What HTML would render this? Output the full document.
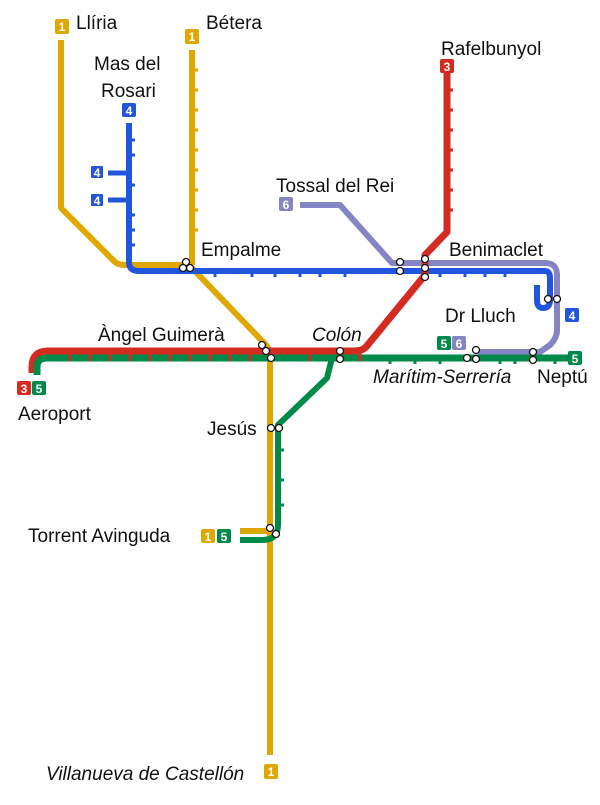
<!DOCTYPE html>
<html><head><meta charset="utf-8"><style>
body{margin:0;background:#fff}
svg text{font-family:"Liberation Sans",sans-serif;font-size:19px;fill:#111}
.b{font-size:12px;font-weight:bold;fill:#fff;text-anchor:middle}
</style></head><body>
<svg width="600" height="800" viewBox="0 0 600 800" xmlns="http://www.w3.org/2000/svg">
<g fill="none" stroke-linejoin="round" stroke-linecap="butt">
<path d="M61,40 V208 L113,260 Q117,265 125,265 H190" stroke="#dfa800" stroke-width="6"/>
<path d="M192,50 V265" stroke="#dfa800" stroke-width="6"/>
<path d="M192,268 L266,345 Q270,350 270,360 V755" stroke="#dfa800" stroke-width="6"/>
<path d="M240,531 H270" stroke="#dfa800" stroke-width="6"/>
<path d="M300,205 H340 L392,263 H545 Q557,263 557,275 V330 Q557,338 550,345 L540,352 H478" stroke="#8585c5" stroke-width="6"/>
<path d="M129,123 V262 Q129,271 139,271 H545 Q550,271 550,278 V300 Q550,308 543,308 Q537,308 537,300 V285" stroke="#2255dd" stroke-width="6"/>
<path d="M108,173 H129 M108,200 H129" stroke="#2255dd" stroke-width="5"/>
<path d="M447,72 V232 L425,255 V275 L366,347 Q362,351 355,351 H48 Q32,351 32,367 V373" stroke="#d42a20" stroke-width="7"/>
<path d="M37,375 V367 Q37,358 47,358 H572" stroke="#008a4a" stroke-width="7"/>
<path d="M332,358 L327,378 L278,425 V525 Q278,540 262,540 H240" stroke="#008a4a" stroke-width="6"/>
</g>
<g stroke="#dfa800" stroke-width="3">
<path d="M58,60h3 M58,80h3 M58,100h3 M58,120h3 M58,140h3 M58,160h3 M58,180h3 M58,200h3 M195,70h3 M195,90h3 M195,110h3 M195,130h3 M195,150h3 M195,170h3 M195,190h3 M195,210h3 M195,230h3 M267,380h3 M267,400h3 M267,450h3 M267,470h3 M267,490h3 M267,510h3 M267,560h3 M267,590h3 M267,620h3 M267,650h3 M267,680h3 M267,710h3 M267,740h3"/>
</g>
<g stroke="#2255dd" stroke-width="3">
<path d="M132,140h3 M132,155h3 M132,185h3 M132,215h3 M132,230h3 M132,245h3 M215,274v3 M252,274v3 M275,274v3 M300,274v3 M320,274v3 M345,274v3 M440,274v3 M465,274v3 M485,274v3 M505,274v3"/>
</g>
<g stroke="#d42a20" stroke-width="3">
<path d="M70,351v10 M90,351v10 M110,351v10 M130,351v10 M150,351v10 M170,351v10 M190,351v10 M210,351v10 M230,351v10 M250,351v10 M310,351v10 M360,351v10 M450,90h3 M450,110h3 M450,130h3 M450,150h3 M450,170h3 M450,190h3 M450,210h3"/>
</g>
<g stroke="#008a4a" stroke-width="3">
<path d="M390,361v3 M415,361v3 M440,361v3 M500,361v3 M515,361v3 M555,361v3 M281,450h3 M281,480h3 M281,505h3"/>
</g>
<g fill="#fff" stroke="#111" stroke-width="1.3">
<circle cx="186" cy="262" r="3.5"/><circle cx="190" cy="268" r="3.5"/><circle cx="183" cy="268" r="3.5"/>
<circle cx="400" cy="262" r="3.5"/><circle cx="400" cy="271" r="3.5"/>
<circle cx="425" cy="259" r="3.5"/><circle cx="425" cy="268" r="3.5"/><circle cx="425" cy="277" r="3.5"/>
<circle cx="548" cy="299" r="3.5"/><circle cx="557" cy="299" r="3.5"/>
<circle cx="262" cy="345" r="3.5"/><circle cx="266" cy="351" r="3.5"/><circle cx="271" cy="358" r="3.5"/>
<circle cx="340" cy="351" r="3.5"/><circle cx="340" cy="359" r="3.5"/>
<circle cx="476" cy="350" r="3.5"/><circle cx="467" cy="358" r="3.5"/><circle cx="476" cy="359" r="3.5"/>
<circle cx="533" cy="352" r="3.5"/><circle cx="533" cy="360" r="3.5"/>
<circle cx="271" cy="428" r="3.5"/><circle cx="279" cy="428" r="3.5"/>
<circle cx="270" cy="528" r="3.5"/><circle cx="276" cy="534" r="3.5"/>
</g>
<g>
<rect x="55" y="19" width="14" height="15" rx="2" fill="#dfa800"/><text class="b" x="62" y="31">1</text>
<rect x="185" y="29" width="14" height="15" rx="2" fill="#dfa800"/><text class="b" x="192" y="41">1</text>
<rect x="122" y="103" width="14" height="14" rx="2" fill="#2255dd"/><text class="b" x="129" y="115">4</text>
<rect x="91" y="166" width="12" height="12" rx="1" fill="#2255dd"/><text class="b" x="97" y="177">4</text>
<rect x="91" y="194" width="12" height="12" rx="1" fill="#2255dd"/><text class="b" x="97" y="205">4</text>
<rect x="279" y="197" width="14" height="14" rx="2" fill="#8585c5"/><text class="b" x="286" y="209">6</text>
<rect x="440" y="59" width="14" height="14" rx="2" fill="#d42a20"/><text class="b" x="447" y="71">3</text>
<rect x="565" y="308" width="14" height="14" rx="2" fill="#2255dd"/><text class="b" x="572" y="320">4</text>
<rect x="437" y="336" width="14" height="14" rx="2" fill="#008a4a"/><text class="b" x="444" y="348">5</text>
<rect x="452" y="336" width="14" height="14" rx="2" fill="#8585c5"/><text class="b" x="459" y="348">6</text>
<rect x="568" y="351" width="14" height="14" rx="2" fill="#008a4a"/><text class="b" x="575" y="363">5</text>
<rect x="17" y="381" width="14" height="14" rx="2" fill="#d42a20"/><text class="b" x="24" y="393">3</text>
<rect x="32" y="381" width="14" height="14" rx="2" fill="#008a4a"/><text class="b" x="39" y="393">5</text>
<rect x="201" y="529" width="14" height="14" rx="2" fill="#dfa800"/><text class="b" x="208" y="541">1</text>
<rect x="217" y="529" width="14" height="14" rx="2" fill="#008a4a"/><text class="b" x="224" y="541">5</text>
<rect x="264" y="764" width="14" height="15" rx="2" fill="#dfa800"/><text class="b" x="271" y="776">1</text>
</g>
<text x="76" y="29">Llíria</text>
<text x="206" y="29">Bétera</text>
<text x="94" y="70">Mas del</text>
<text x="101" y="97">Rosari</text>
<text x="441" y="55">Rafelbunyol</text>
<text x="276" y="192">Tossal del Rei</text>
<text x="201" y="256">Empalme</text>
<text x="449" y="256">Benimaclet</text>
<text x="445" y="322">Dr Lluch</text>
<text x="98" y="341">Àngel Guimerà</text>
<text x="312" y="341" font-style="italic">Colón</text>
<text x="373" y="383" font-style="italic">Marítim-Serrería</text>
<text x="537" y="383">Neptú</text>
<text x="18" y="420">Aeroport</text>
<text x="207" y="435">Jesús</text>
<text x="28" y="542">Torrent Avinguda</text>
<text x="46" y="780" font-style="italic">Villanueva de Castellón</text>
</svg>
</body></html>
